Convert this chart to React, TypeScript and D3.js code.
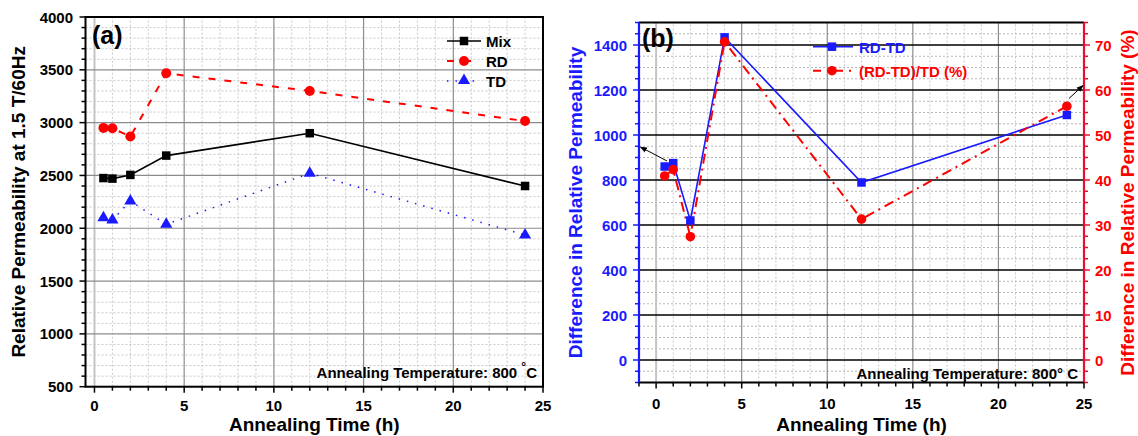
import React from 'react';
import * as d3 from 'd3';

const times = [0.5, 1, 2, 4, 12, 24];
const mixValues = [2475, 2470, 2505, 2688, 2900, 2400];
const rdValues = [2950, 2946, 2868, 3467, 3300, 3015];
const tdValues = [2100, 2078, 2258, 2037, 2520, 1936];
const diffValues = [860, 875, 620, 1434, 789, 1089];
const diffPctValues = [40.9, 42.3, 27.4, 70.7, 31.3, 56.4];

const xTicks = [0, 5, 10, 15, 20, 25];
const xMinorTicks = d3.range(-0, 26, 1);
const yTicksA = [500, 1000, 1500, 2000, 2500, 3000, 3500, 4000];
const yMinorA = d3.range(500, 4001, 100);
const yTicksBL = [0, 200, 400, 600, 800, 1000, 1200, 1400];
const yMinorBL = d3.range(-100, 1501, 50);
const yTicksBR = [0, 10, 20, 30, 40, 50, 60, 70];

const FONT = "'Liberation Sans', Arial, sans-serif";
const BLUE = '#1a1aff';
const RED = '#ff0000';
const RED_AXIS = '#e8102e';

type Pt = [number, number];

function ptsOf(xs: number[], ys: number[]): Pt[] {
  return xs.map((x, i) => [x, ys[i]] as Pt);
}

export default function App() {
  // Panel (a) scales
  const xA = d3.scaleLinear().domain([-0.5, 25]).range([85.5, 543]);
  const yA = d3.scaleLinear().domain([500, 4000]).range([386.7, 17]);
  // Panel (b) scales
  const xB = d3.scaleLinear().domain([-1, 25]).range([639, 1084]);
  const yBL = d3.scaleLinear().domain([-100, 1500]).range([382.5, 22.5]);
  const yBR = d3.scaleLinear().domain([-5, 75]).range([382.5, 22.5]);

  const lineA = d3.line<Pt>().x(d => xA(d[0])).y(d => yA(d[1]));
  const lineBL = d3.line<Pt>().x(d => xB(d[0])).y(d => yBL(d[1]));
  const lineBR = d3.line<Pt>().x(d => xB(d[0])).y(d => yBR(d[1]));

  const tri = d3.symbol().type(d3.symbolTriangle).size(64)() as string;

  const [ax0, ax1] = xA.range();
  const [ay0, ay1] = [yA(500), yA(4000)];
  const [bx0, bx1] = xB.range();
  const [by0, by1] = [yBL(-100), yBL(1500)];

  const square = (cx: number, cy: number, s: number, fill: string, key?: any) => (
    <rect key={key} x={cx - s / 2} y={cy - s / 2} width={s} height={s} fill={fill} />
  );

  return (
    <svg width={1138} height={436} style={{ position: 'absolute', left: 0, top: 0, background: '#fff' }}
      fontFamily={FONT}>
      <defs>
        <marker id="arrowHead" viewBox="0 0 10 10" refX="9" refY="5" markerWidth="7" markerHeight="7" orient="auto">
          <path d="M0,1 L10,5 L0,9 z" fill="#000" />
        </marker>
      </defs>
      <rect x={0} y={0} width={1138} height={436} fill="#fff" />

      {/* ================= PANEL A ================= */}
      <g>
        {/* minor grid */}
        {xMinorTicks.filter(t => t % 5 !== 0).map(t => (
          <line key={'amx' + t} x1={xA(t)} x2={xA(t)} y1={ay0} y2={ay1} stroke="#c8c8c8" strokeWidth={1} strokeDasharray="2,2" />
        ))}
        {yMinorA.filter(t => t % 500 !== 0).map(t => (
          <line key={'amy' + t} x1={ax0} x2={ax1} y1={yA(t)} y2={yA(t)} stroke="#c8c8c8" strokeWidth={1} strokeDasharray="2,2" />
        ))}
        {/* major grid */}
        {xTicks.map(t => (
          <line key={'aMx' + t} x1={xA(t)} x2={xA(t)} y1={ay0} y2={ay1}
            stroke={t === 0 ? '#c4c4c4' : '#8c8c8c'} strokeWidth={t === 0 ? 2 : 1.2} />
        ))}
        {yTicksA.map(t => (
          <line key={'aMy' + t} x1={ax0} x2={ax1} y1={yA(t)} y2={yA(t)} stroke="#8c8c8c" strokeWidth={1.2} />
        ))}

        {/* series lines */}
        <path d={lineA(ptsOf(times, mixValues)) as string} fill="none" stroke="#000" strokeWidth={1.6} />
        <path d={lineA(ptsOf(times, rdValues)) as string} fill="none" stroke={RED} strokeWidth={2} strokeDasharray="7,9" />
        <path d={lineA(ptsOf(times, tdValues)) as string} fill="none" stroke={BLUE} strokeWidth={1.5} strokeDasharray="1.5,7" />

        {/* markers */}
        {times.map((t, i) => square(xA(t), yA(mixValues[i]), 8.5, '#000', 'ms' + i))}
        {times.map((t, i) => (
          <circle key={'rc' + i} cx={xA(t)} cy={yA(rdValues[i])} r={5} fill={RED} />
        ))}
        {times.map((t, i) => (
          <path key={'tt' + i} d={tri} transform={`translate(${xA(t)},${yA(tdValues[i])})`} fill={BLUE} />
        ))}

        {/* frame */}
        <rect x={ax0} y={ay1} width={ax1 - ax0} height={ay0 - ay1} fill="none" stroke="#000" strokeWidth={2} />

        {/* left ticks */}
        {yMinorA.map(t => (
          <line key={'aty' + t} x1={ax0 - (t % 500 === 0 ? 6 : 4)} x2={ax0} y1={yA(t)} y2={yA(t)} stroke="#000" strokeWidth={1.5} />
        ))}
        {yTicksA.map(t => (
          <text key={'alb' + t} x={73} y={yA(t)} textAnchor="end" dominantBaseline="central" fontSize={15} fontWeight="bold">{t}</text>
        ))}
        {/* bottom ticks */}
        {xMinorTicks.map(t => (
          <line key={'atx' + t} x1={xA(t)} x2={xA(t)} y1={ay0} y2={ay0 + (t % 5 === 0 ? 6 : 4)} stroke="#000" strokeWidth={1.5} />
        ))}
        {xTicks.map(t => (
          <text key={'axl' + t} x={xA(t)} y={405} textAnchor="middle" dominantBaseline="central" fontSize={15} fontWeight="bold">{t}</text>
        ))}

        {/* titles */}
        <text x={(ax0 + ax1) / 2} y={424} textAnchor="middle" dominantBaseline="central" fontSize={19} fontWeight="bold">Annealing Time (h)</text>
        <text transform={`translate(18,${(ay0 + ay1) / 2}) rotate(-90)`} textAnchor="middle" dominantBaseline="central" fontSize={19} fontWeight="bold">
          Relative Permeability at 1.5 T/60Hz
        </text>
        <text x={92} y={44} fontSize={25} fontWeight="bold">(a)</text>

        {/* legend */}
        <line x1={447} x2={481} y1={41} y2={41} stroke="#000" strokeWidth={1.6} />
        {square(464, 41, 8.5, '#000')}
        <text x={486} y={41} dominantBaseline="central" fontSize={15} fontWeight="bold">Mix</text>
        <line x1={447} x2={481} y1={61} y2={61} stroke={RED} strokeWidth={2} strokeDasharray="7,10" />
        <circle cx={464} cy={61} r={5} fill={RED} />
        <text x={486} y={61} dominantBaseline="central" fontSize={15} fontWeight="bold">RD</text>
        <line x1={447} x2={481} y1={81} y2={81} stroke={BLUE} strokeWidth={1.5} strokeDasharray="1.5,7" />
        <path d={tri} transform="translate(464,80.5)" fill={BLUE} />
        <text x={486} y={81} dominantBaseline="central" fontSize={15} fontWeight="bold">TD</text>

        <text x={537} y={372} textAnchor="end" dominantBaseline="central" fontSize={15} fontWeight="bold">
          Annealing Temperature: 800 <tspan dy={-5} fontSize={12}>°</tspan><tspan dy={5}>C</tspan>
        </text>
      </g>

      {/* ================= PANEL B ================= */}
      <g>
        {xMinorTicks.filter(t => t % 5 !== 0).map(t => (
          <line key={'bmx' + t} x1={xB(t)} x2={xB(t)} y1={by0} y2={by1} stroke="#c8c8c8" strokeWidth={1} strokeDasharray="2,2" />
        ))}
        {yMinorBL.filter(t => t % 200 !== 0).map(t => (
          <line key={'bmy' + t} x1={bx0} x2={bx1} y1={yBL(t)} y2={yBL(t)} stroke="#b8b8b8" strokeWidth={1} strokeDasharray="2,2" />
        ))}
        {xTicks.map(t => (
          <line key={'bMx' + t} x1={xB(t)} x2={xB(t)} y1={by0} y2={by1}
            stroke={t === 0 ? '#c4c4c4' : '#8c8c8c'} strokeWidth={t === 0 ? 2 : 1.2} />
        ))}
        {yTicksBL.map(t => (
          <line key={'bMy' + t} x1={bx0} x2={bx1} y1={yBL(t)} y2={yBL(t)} stroke="#000" strokeWidth={1.4} />
        ))}

        <path d={lineBL(ptsOf(times, diffValues)) as string} fill="none" stroke={BLUE} strokeWidth={1.6} />
        <path d={lineBR(ptsOf(times, diffPctValues)) as string} fill="none" stroke={RED} strokeWidth={2} strokeDasharray="10,5,2,5" />

        {times.map((t, i) => square(xB(t), yBL(diffValues[i]), 8.5, BLUE, 'bs' + i))}
        {times.map((t, i) => (
          <circle key={'bc' + i} cx={xB(t)} cy={yBR(diffPctValues[i])} r={4.8} fill={RED} />
        ))}

        {/* frame */}
        <line x1={bx0} x2={bx1} y1={by1} y2={by1} stroke="#000" strokeWidth={2} />
        <line x1={bx0} x2={bx1} y1={by0} y2={by0} stroke="#000" strokeWidth={2} />
        <line x1={bx0} x2={bx0} y1={by1} y2={by0} stroke={BLUE} strokeWidth={2.2} />
        <line x1={bx1} x2={bx1} y1={by1} y2={by0} stroke={RED_AXIS} strokeWidth={2.2} />

        {yMinorBL.map(t => (
          <line key={'bty' + t} x1={bx0 - (t % 200 === 0 ? 6 : 4)} x2={bx0} y1={yBL(t)} y2={yBL(t)} stroke={BLUE} strokeWidth={1.5} />
        ))}
        {yMinorBL.map(t => (
          <line key={'btr' + t} x1={bx1} x2={bx1 + (t % 200 === 0 ? 6 : 4)} y1={yBL(t)} y2={yBL(t)} stroke={RED_AXIS} strokeWidth={1.5} />
        ))}
        {yTicksBL.map(t => (
          <text key={'blb' + t} x={627} y={yBL(t)} textAnchor="end" dominantBaseline="central" fontSize={15} fontWeight="bold" fill={BLUE}>{t}</text>
        ))}
        {yTicksBR.map(t => (
          <text key={'brb' + t} x={1095} y={yBR(t)} textAnchor="start" dominantBaseline="central" fontSize={15} fontWeight="bold" fill={RED}>{t}</text>
        ))}
        {d3.range(-1, 26, 1).map(t => (
          <line key={'btx' + t} x1={xB(t)} x2={xB(t)} y1={by0} y2={by0 + (t % 5 === 0 ? 6 : 4)} stroke="#000" strokeWidth={1.5} />
        ))}
        {xTicks.map(t => (
          <text key={'bxl' + t} x={xB(t)} y={403} textAnchor="middle" dominantBaseline="central" fontSize={15} fontWeight="bold">{t}</text>
        ))}

        <text x={(bx0 + bx1) / 2} y={424} textAnchor="middle" dominantBaseline="central" fontSize={19} fontWeight="bold">Annealing Time (h)</text>
        <text transform={`translate(575,${(by0 + by1) / 2}) rotate(-90)`} textAnchor="middle" dominantBaseline="central" fontSize={19} fontWeight="bold" fill={BLUE}>
          Difference in Relative Permeability
        </text>
        <text transform={`translate(1127,${(by0 + by1) / 2}) rotate(-90)`} textAnchor="middle" dominantBaseline="central" fontSize={19} fontWeight="bold" fill={RED}>
          Difference in Relative Permeability (%)
        </text>
        <text x={642} y={47} fontSize={25} fontWeight="bold">(b)</text>

        {/* legend */}
        <line x1={813} x2={853} y1={46.7} y2={46.7} stroke={BLUE} strokeWidth={1.6} />
        {square(832, 46.7, 8.5, BLUE)}
        <text x={859} y={47} dominantBaseline="central" fontSize={15} fontWeight="bold" fill={BLUE}>RD-TD</text>
        <line x1={813} x2={853} y1={70.7} y2={70.7} stroke={RED} strokeWidth={2} strokeDasharray="8,6,2,6" />
        <circle cx={832} cy={70.7} r={4.8} fill={RED} />
        <text x={859} y={71} dominantBaseline="central" fontSize={15} fontWeight="bold" fill={RED}>(RD-TD)/TD (%)</text>

        {/* arrows */}
        <line x1={667} y1={161} x2={640.5} y2={147} stroke="#000" strokeWidth={1} markerEnd="url(#arrowHead)" />
        <line x1={1069} y1={98.5} x2={1083} y2={85.5} stroke="#000" strokeWidth={1} markerEnd="url(#arrowHead)" />

        <text x={1078} y={373} textAnchor="end" dominantBaseline="central" fontSize={15} fontWeight="bold">
          Annealing Temperature: 800° C
        </text>
      </g>
    </svg>
  );
}
